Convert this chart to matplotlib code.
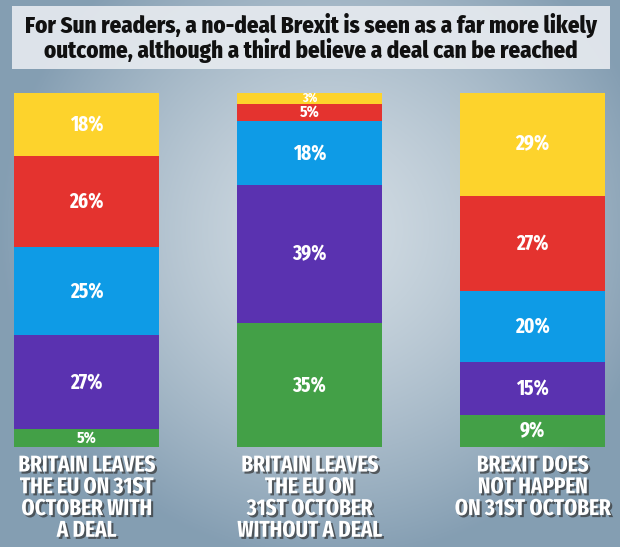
import numpy as np
import matplotlib
matplotlib.use("Agg")
import matplotlib.pyplot as plt
from matplotlib.patches import Rectangle
import matplotlib.patheffects as pe

# ---- data ----
categories = ["BRITAIN LEAVES\nTHE EU ON 31ST\nOCTOBER WITH\nA DEAL",
              "BRITAIN LEAVES\nTHE EU ON\n31ST OCTOBER\nWITHOUT A DEAL",
              "BREXIT DOES\nNOT HAPPEN\nON 31ST OCTOBER"]
# segments listed bottom -> top
green = [5, 35, 9]
purple = [27, 39, 15]
blue = [25, 18, 20]
red = [26, 5, 27]
yellow = [18, 3, 29]
series = [green, purple, blue, red, yellow]
colors = ["#43A047", "#5A32B0", "#0E9BE6", "#E4332F", "#FDD32C"]
title = ("For Sun readers, a no-deal Brexit is seen as a far more likely\n"
         "outcome, although a third believe a deal can be reached")

TFONT = ["Fira Sans Condensed", "DejaVu Sans"]
LFONT = ["Fira Sans Extra Condensed", "DejaVu Sans"]

W, H = 620, 547
fig = plt.figure(figsize=(W / 100, H / 100), dpi=100)

# background (sky-like)
bg = fig.add_axes([0, 0, 1, 1])
yy, xx = np.mgrid[0:H, 0:W]
r = np.sqrt(((xx - 330) / 330.0) ** 2 + ((yy - 230) / 330.0) ** 2)
light = np.array([0.82, 0.86, 0.89])
dark = np.array([0.52, 0.62, 0.70])
t = np.clip(r, 0, 1)[..., None] ** 1.4
img = light * (1 - t) + dark * t
bg.imshow(img, extent=[0, W, H, 0], aspect="auto")
bg.set_xlim(0, W)
bg.set_ylim(H, 0)
bg.axis("off")

# title box
bg.add_patch(Rectangle((12, 6), 598, 63, facecolor="#E6EAEF", edgecolor="none", alpha=0.92))
bg.text(311, 38, title, ha="center", va="center", fontsize=16.5, fontweight="heavy",
        family=TFONT, color="#111111", linespacing=1.0)

# bars
ax = fig.add_axes([0, 0, 1, 1], facecolor="none")
x = np.arange(len(categories))
pitch = 223.0
ax.set_xlim(-86.5 / pitch, (W - 86.5) / pitch)
top_px, bot_px = 93.0, 447.0
scale = (bot_px - top_px) / 100.0
ax.set_ylim(-(H - bot_px) / scale, bot_px / scale)
ax.axis("off")

totals = np.sum(series, axis=0)
bottom = np.zeros(len(x))
for vals, c in zip(series, colors):
    v = np.array(vals, dtype=float) / totals * 100
    ax.bar(x, v, bottom=bottom, width=0.65, color=c, edgecolor="none")
    for xi, bi, vi, lab in zip(x, bottom, v, vals):
        if lab <= 3:
            fs = 9.5
        elif lab <= 5:
            fs = 12
        else:
            fs = 15
        ax.text(xi, bi + vi / 2, f"{lab}%", ha="center", va="center",
                fontsize=fs, fontweight="bold", color="white", family=LFONT)
    bottom += v

shadow = [pe.withSimplePatchShadow(offset=(1.5, -1.5), shadow_rgbFace="#333333", alpha=0.7)]
for xi, cat in zip(x, categories):
    ax.text(xi, -1.8, cat, ha="center", va="top", fontsize=16.5, fontweight="bold",
            color="white", family=LFONT,
            linespacing=0.93, path_effects=shadow)

fig.savefig("out.png", dpi=100)
